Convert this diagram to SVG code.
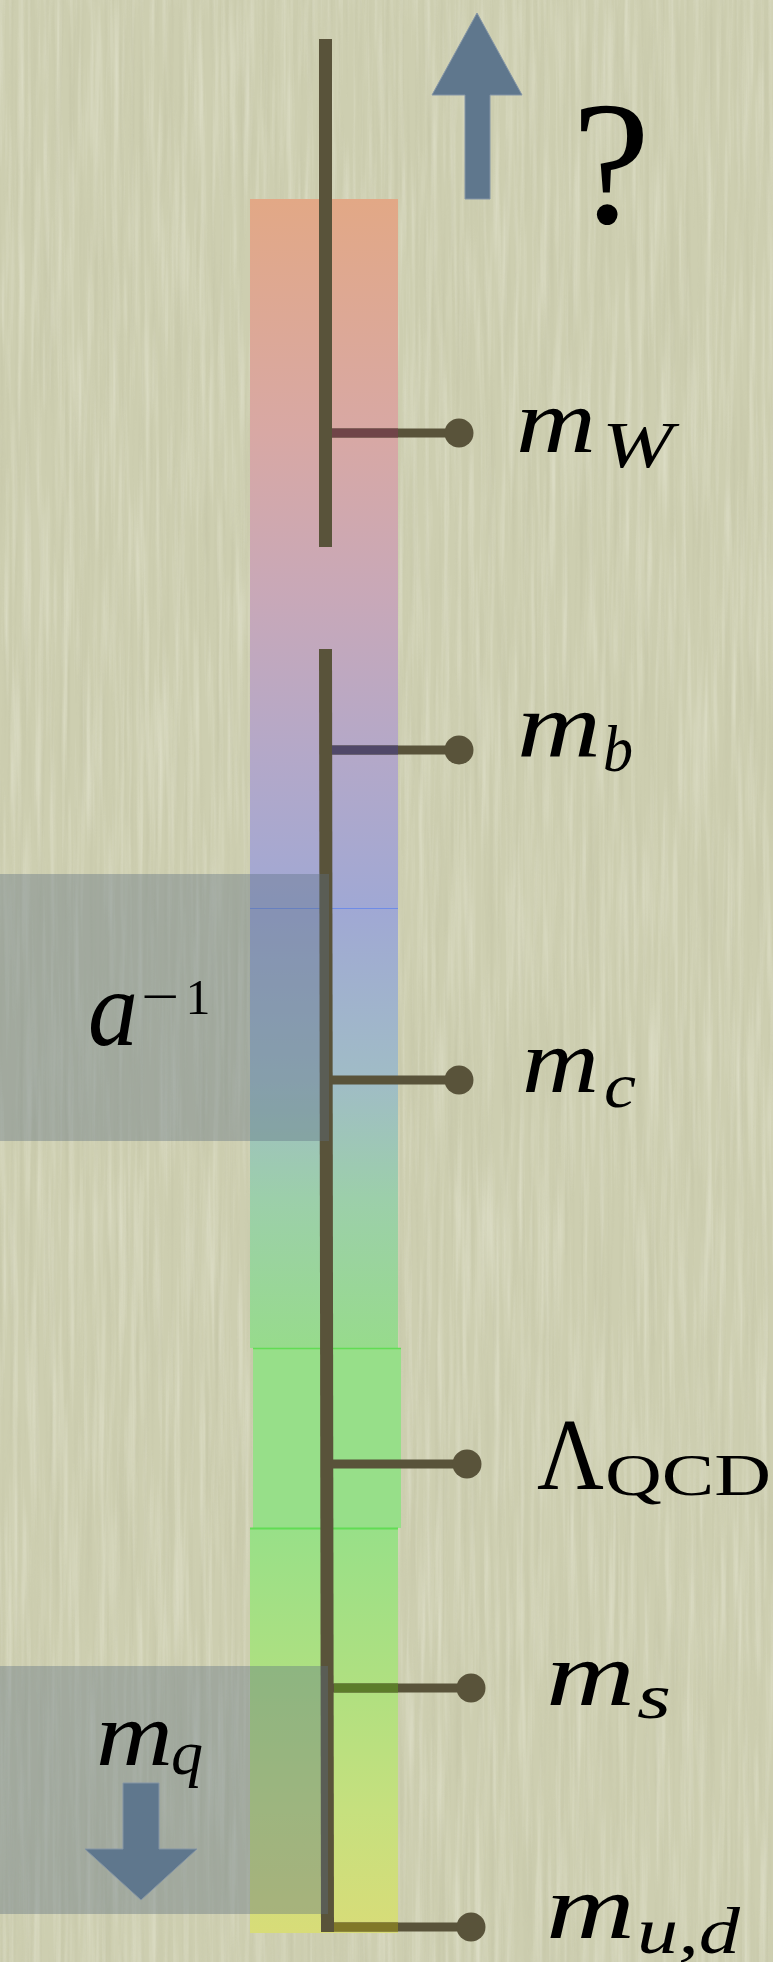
<svg xmlns="http://www.w3.org/2000/svg" width="773" height="1962" viewBox="0 0 773 1962">
<defs>
<style>
.axis{stroke:#59533a;stroke-width:13;fill:none}
.tick{stroke:#59533a;stroke-width:9;fill:none}
.dot{fill:#59533a}
.mi{font-family:"Liberation Serif","Times New Roman",serif;font-style:italic;fill:#000}
.rm{font-family:"Liberation Serif","Times New Roman",serif;fill:#000}
.shade{fill:#5b6e80;fill-opacity:0.38}
.arrow{fill:#5f778d;stroke:#8495a6;stroke-width:1}
</style>
<filter id="grainL" x="0" y="0" width="100%" height="100%">
<feTurbulence type="fractalNoise" baseFrequency="0.16 0.006" numOctaves="3" seed="4"/>
<feColorMatrix type="matrix" values="0 0 0 0 1  0 0 0 0 1  0 0 0 0 0.93  2.0 0 0 0 -0.85"/>
</filter>
<filter id="grainD" x="0" y="0" width="100%" height="100%">
<feTurbulence type="fractalNoise" baseFrequency="0.2 0.005" numOctaves="2" seed="9"/>
<feColorMatrix type="matrix" values="0 0 0 0 0.45  0 0 0 0 0.45  0 0 0 0 0.3  0 2.0 0 0 -0.9"/>
</filter>
<linearGradient id="gA" x1="0" y1="0" x2="0" y2="1">
<stop offset="0" stop-color="#e2a886"/>
<stop offset="0.33" stop-color="#d8a8a4"/>
<stop offset="0.56" stop-color="#c8a8b8"/>
<stop offset="0.78" stop-color="#b4a8c8"/>
<stop offset="1" stop-color="#a0a8d4"/>
</linearGradient>
<linearGradient id="gB" x1="0" y1="0" x2="0" y2="1">
<stop offset="0" stop-color="#a0a8d4"/>
<stop offset="0.39" stop-color="#a0bcc6"/>
<stop offset="0.66" stop-color="#9ccfaa"/>
<stop offset="1" stop-color="#97db8c"/>
</linearGradient>
<linearGradient id="gD" x1="0" y1="0" x2="0" y2="1">
<stop offset="0" stop-color="#98e088"/>
<stop offset="0.4" stop-color="#b0e080"/>
<stop offset="0.7" stop-color="#c6e07e"/>
<stop offset="1" stop-color="#d8dc78"/>
</linearGradient>
</defs>

<g id="background">
<rect x="0" y="0" width="773" height="1962" fill="#cdceb0"/>
<rect x="0" y="0" width="773" height="1962" filter="url(#grainL)" opacity="0.3"/>
<rect x="0" y="0" width="773" height="1962" filter="url(#grainD)" opacity="0.25"/>
</g>

<g id="scale-bar">
<rect x="250" y="199" width="148" height="709" fill="url(#gA)"/>
<rect x="250" y="908" width="148" height="440" fill="url(#gB)"/>
<line x1="250" y1="908.5" x2="398" y2="908.5" stroke="#6f8ce6" stroke-width="1.2"/>
<rect x="253" y="1348" width="148" height="180" fill="#97df89"/>
<line x1="253" y1="1348.5" x2="401" y2="1348.5" stroke="#62dc55" stroke-width="1.5"/>
<rect x="250" y="1528" width="148" height="405" fill="url(#gD)"/>
<line x1="250" y1="1528.5" x2="398" y2="1528.5" stroke="#62dc55" stroke-width="2"/>
</g>

<g id="connectors">
<line class="axis" x1="325.5" y1="39" x2="325.5" y2="547"/>
<line class="axis" x1="325.5" y1="649" x2="327.5" y2="1932"/>
<line class="tick" x1="330" y1="433" x2="459" y2="433"/>
<line x1="332" y1="433" x2="398" y2="433" stroke="#704448" stroke-width="9"/>
<line class="tick" x1="330" y1="750" x2="459" y2="750"/>
<line x1="332" y1="750" x2="398" y2="750" stroke="#504868" stroke-width="9"/>
<line class="tick" x1="330" y1="1080" x2="459" y2="1080"/>
<line class="tick" x1="331" y1="1464" x2="467" y2="1464"/>
<line class="tick" x1="332" y1="1688" x2="471" y2="1688"/>
<line x1="334" y1="1688" x2="398" y2="1688" stroke="#5c7c2a" stroke-width="9"/>
<line class="tick" x1="332" y1="1927" x2="471" y2="1927"/>
<line x1="334" y1="1927" x2="398" y2="1927" stroke="#807828" stroke-width="9"/>
</g>

<g id="cutoff-a">
<rect class="shade" x="0" y="874" width="329" height="267"/>
<text class="mi" x="88" y="1045" font-size="107" textLength="50" lengthAdjust="spacingAndGlyphs">a</text>
<text class="rm" x="141" y="1014" font-size="52" textLength="38" lengthAdjust="spacingAndGlyphs">−</text>
<text class="rm" x="198" y="1014" font-size="50" text-anchor="middle">1</text>
</g>

<g id="quark-mass">
<rect class="shade" x="0" y="1666" width="328" height="248"/>
<text class="mi" x="96" y="1765" font-size="90" textLength="77" lengthAdjust="spacingAndGlyphs">m</text>
<text class="mi" x="171" y="1774" font-size="64" textLength="32" lengthAdjust="spacingAndGlyphs">q</text>
<polygon class="arrow" points="123,1783 159,1783 159,1849 197,1849 141,1900 85,1849 123,1849"/>
</g>

<g id="unknown">
<polygon class="arrow" points="477,13 522,95 490,95 490,199 465,199 465,95 432,95"/>
<text class="rm" x="611" y="223" font-size="176" text-anchor="middle">?</text>
</g>

<g id="node-mW">
<circle class="dot" cx="459" cy="433" r="14.5"/>
<text class="mi" x="516" y="452" font-size="90" textLength="80" lengthAdjust="spacingAndGlyphs">m</text>
<text class="mi" x="602" y="467" font-size="66" textLength="71" lengthAdjust="spacingAndGlyphs">W</text>
</g>

<g id="node-mb">
<circle class="dot" cx="459" cy="750" r="14.5"/>
<text class="mi" x="517" y="757" font-size="94" textLength="84" lengthAdjust="spacingAndGlyphs">m</text>
<text class="mi" x="603" y="771" font-size="66" textLength="30" lengthAdjust="spacingAndGlyphs">b</text>
</g>

<g id="node-mc">
<circle class="dot" cx="459" cy="1080" r="14.5"/>
<text class="mi" x="522" y="1092" font-size="90" textLength="77" lengthAdjust="spacingAndGlyphs">m</text>
<text class="mi" x="604" y="1107" font-size="64" textLength="32" lengthAdjust="spacingAndGlyphs">c</text>
</g>

<g id="node-lambda">
<circle class="dot" cx="467" cy="1464" r="14.5"/>
<text class="rm" x="537" y="1489" font-size="101" textLength="67" lengthAdjust="spacingAndGlyphs">Λ</text>
<text class="rm" x="605" y="1495" font-size="60" textLength="166" lengthAdjust="spacingAndGlyphs">QCD</text>
</g>

<g id="node-ms">
<circle class="dot" cx="471" cy="1688" r="14.5"/>
<text class="mi" x="546" y="1705" font-size="90" textLength="89" lengthAdjust="spacingAndGlyphs">m</text>
<text class="mi" x="637" y="1718" font-size="64" textLength="34" lengthAdjust="spacingAndGlyphs">s</text>
</g>

<g id="node-mud">
<circle class="dot" cx="471" cy="1927" r="14.5"/>
<text class="mi" x="546" y="1938" font-size="92" textLength="89" lengthAdjust="spacingAndGlyphs">m</text>
<text class="mi" x="637" y="1953" font-size="66" textLength="103" lengthAdjust="spacingAndGlyphs">u,d</text>
</g>
</svg>
